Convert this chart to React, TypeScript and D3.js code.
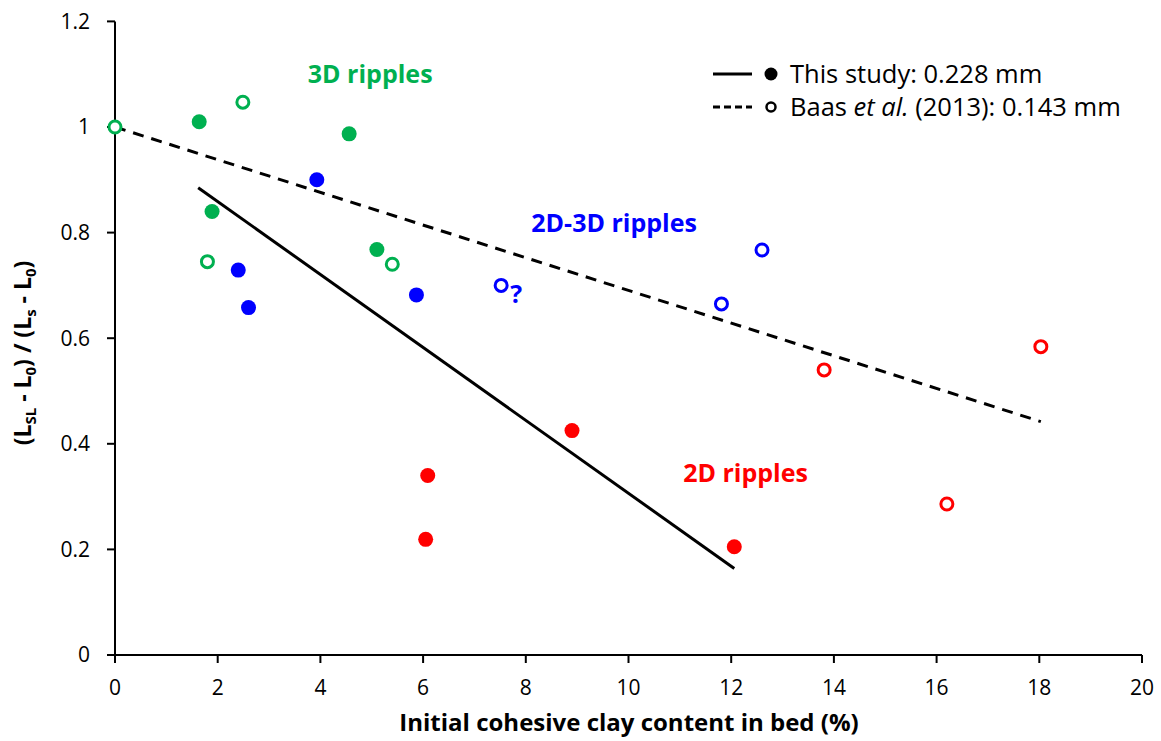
import React from "react"
import * as d3 from "d3"

// clay content (%) and normalised ripple length
const thisStudy = [
  { x: 1.64, y: 1.01, c: "green" },
  { x: 1.89, y: 0.84, c: "green" },
  { x: 4.56, y: 0.987, c: "green" },
  { x: 5.1, y: 0.768, c: "green" },
  { x: 3.93, y: 0.9, c: "blue" },
  { x: 2.4, y: 0.729, c: "blue" },
  { x: 2.6, y: 0.658, c: "blue" },
  { x: 5.87, y: 0.682, c: "blue" },
  { x: 8.9, y: 0.425, c: "red" },
  { x: 6.09, y: 0.34, c: "red" },
  { x: 6.05, y: 0.219, c: "red" },
  { x: 12.06, y: 0.205, c: "red" },
]

const baas = [
  { x: 0, y: 1.0, c: "green" },
  { x: 2.49, y: 1.047, c: "green" },
  { x: 1.8, y: 0.745, c: "green" },
  { x: 5.4, y: 0.74, c: "green" },
  { x: 7.52, y: 0.7, c: "blue" },
  { x: 11.81, y: 0.665, c: "blue" },
  { x: 12.6, y: 0.767, c: "blue" },
  { x: 13.81, y: 0.54, c: "red" },
  { x: 16.2, y: 0.286, c: "red" },
  { x: 18.03, y: 0.584, c: "red" },
]

const fitThisStudy = [
  { x: 1.62, y: 0.885 },
  { x: 12.06, y: 0.164 },
]
const fitBaas = [
  { x: 0, y: 1.0 },
  { x: 18.03, y: 0.442 },
]

const xTicks = [0, 2, 4, 6, 8, 10, 12, 14, 16, 18, 20]
const yTicks = [0, 0.2, 0.4, 0.6, 0.8, 1, 1.2]

const colors: Record<string, string> = {
  green: "#00B050",
  blue: "#0000FF",
  red: "#FF0000",
}

const regimes = [
  { text: "3D ripples", x: 4.97, y: 1.1, c: "green" },
  { text: "2D-3D ripples", x: 9.72, y: 0.818, c: "blue" },
  { text: "2D ripples", x: 12.28, y: 0.345, c: "red" },
]

const font = "'Open Sans', sans-serif"

export default function App() {
  const width = 1161
  const height = 741
  const x = d3.scaleLinear().domain([0, 20]).range([115, 1142])
  const y = d3.scaleLinear().domain([0, 1.2]).range([655, 21.4])
  const line = d3
    .line<{ x: number; y: number }>()
    .x((d) => x(d.x))
    .y((d) => y(d.y))

  return (
    <div style={{ position: "absolute", left: 0, top: 0 }}>
      <svg width={width} height={height} style={{ display: "block", background: "#fff" }} fontFamily={font}>
        {/* axes */}
        <line x1={x(0)} x2={x(20)} y1={y(0)} y2={y(0)} stroke="#000" strokeWidth={2} />
        <line x1={x(0)} x2={x(0)} y1={y(0)} y2={y(1.2)} stroke="#000" strokeWidth={2} />
        {xTicks.map((t) => (
          <g key={"x" + t}>
            <line x1={x(t)} x2={x(t)} y1={y(0)} y2={y(0) + 8} stroke="#000" strokeWidth={2} />
            <text x={x(t)} y={y(0) + 40} textAnchor="middle" fontSize={21}>
              {t}
            </text>
          </g>
        ))}
        {yTicks.map((t) => (
          <g key={"y" + t}>
            <line x1={x(0) - 8} x2={x(0)} y1={y(t)} y2={y(t)} stroke="#000" strokeWidth={2} />
            <text x={x(0) - 25} y={y(t)} dy="0.35em" textAnchor="end" fontSize={21}>
              {d3.format("~g")(t)}
            </text>
          </g>
        ))}

        {/* axis titles */}
        <text x={629} y={731} textAnchor="middle" fontSize={24} fontWeight="bold">
          Initial cohesive clay content in bed (%)
        </text>
        <text transform="translate(31,353) rotate(-90)" textAnchor="middle" fontSize={23} fontWeight="bold">
          (L<tspan fontSize={15} dy={5}>SL</tspan>
          <tspan dy={-5}> - L</tspan>
          <tspan fontSize={15} dy={5}>0</tspan>
          <tspan dy={-5}>) / (L</tspan>
          <tspan fontSize={15} dy={5}>s</tspan>
          <tspan dy={-5}> - L</tspan>
          <tspan fontSize={15} dy={5}>0</tspan>
          <tspan dy={-5}>)</tspan>
        </text>

        {/* trend lines */}
        <path d={line(fitThisStudy) ?? ""} fill="none" stroke="#000" strokeWidth={3} />
        <path d={line(fitBaas) ?? ""} fill="none" stroke="#000" strokeWidth={3} strokeDasharray="11 8" />

        {/* points */}
        {thisStudy.map((d, i) => (
          <circle key={"t" + i} cx={x(d.x)} cy={y(d.y)} r={7.5} fill={colors[d.c]} />
        ))}
        {baas.map((d, i) => (
          <circle key={"b" + i} cx={x(d.x)} cy={y(d.y)} r={6} fill="#fff" stroke={colors[d.c]} strokeWidth={3} />
        ))}
        <text x={x(7.52) + 9} y={y(0.7) + 18} fontSize={25} fontWeight="bold" fill={colors.blue}>
          ?
        </text>

        {regimes.map((r) => (
          <text key={r.text} x={x(r.x)} y={y(r.y)} dy="0.35em" textAnchor="middle" fontSize={25} fontWeight="bold" fill={colors[r.c]}>
            {r.text}
          </text>
        ))}

        {/* legend */}
        <line x1={713} x2={752} y1={74} y2={74} stroke="#000" strokeWidth={3} />
        <circle cx={771} cy={74} r={6.5} fill="#000" />
        <text x={790} y={74} dy="0.35em" fontSize={25.5}>
          This study: 0.228 mm
        </text>
        <line x1={713} x2={752} y1={107} y2={107} stroke="#000" strokeWidth={3} strokeDasharray="7 4" />
        <circle cx={771} cy={107} r={4.5} fill="#fff" stroke="#000" strokeWidth={2.5} />
        <text x={790} y={107} dy="0.35em" fontSize={25.5}>
          Baas <tspan fontStyle="italic">et al.</tspan> (2013): 0.143 mm
        </text>
      </svg>
    </div>
  )
}
